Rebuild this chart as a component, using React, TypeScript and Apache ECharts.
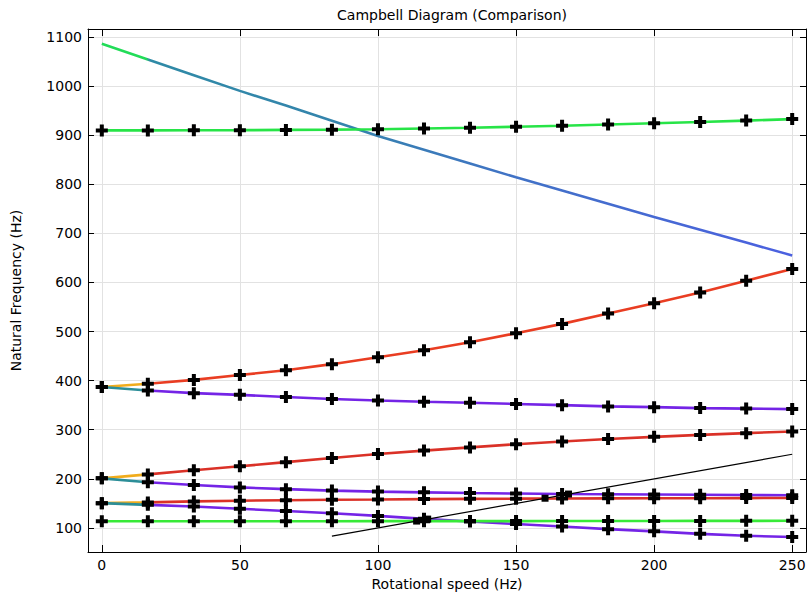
import React, { useEffect, useRef } from 'react';
import * as echarts from 'echarts';

// ---- data ----
const speeds = [0, 16.67, 33.33, 50, 66.67, 83.33, 100, 116.67, 133.33, 150, 166.67, 183.33, 200, 216.67, 233.33, 250];

const modeA = [1086, 1054, 1022, 990, 960, 929, 898, 870, 842, 814, 787, 760, 733, 707, 681, 655];
const modeB = [909.5, 909.5, 909.7, 910, 910.5, 911, 912, 913.5, 915, 917, 919, 921.5, 924, 926.5, 929.5, 932.5];
const modeC = [387, 393.5, 401.5, 411.5, 421, 433.5, 447.5, 462, 478, 496.5, 515.5, 536.5, 557.5, 579.5, 603.5, 627.5];
const modeD = [387, 380, 374.5, 371, 366.5, 362.5, 359.5, 357, 355, 352.5, 350, 347.5, 346, 344, 343, 342];
const modeE = [201, 209, 217.5, 225.5, 234, 242.5, 250.5, 257.5, 264, 270.5, 276, 281, 285.5, 289.5, 293, 296.5];
const modeF = [201, 193, 187.5, 182.5, 179, 176, 174, 172.5, 171, 170, 169, 168.5, 168, 167.5, 167, 166.5];
const modeG = [150.5, 152, 154, 155.5, 156.5, 157.5, 158, 158.7, 159.2, 159.6, 160, 160.2, 160.4, 160.6, 160.8, 161];
const modeH = [150.5, 147, 143.5, 139, 134.5, 130, 124.5, 118.5, 113, 108, 103, 97.5, 93, 88, 84, 81.5];
const modeI = [113.5, 113.5, 113.6, 113.6, 113.7, 113.7, 113.8, 113.8, 113.9, 113.9, 114, 114.1, 114.2, 114.3, 114.4, 114.5];

const oneXSpeed = [83.33, 250];
const oneXFreq = [83.33, 250];

const crossSpeed = [114, 118, 160.5, 169];
const crossFreq = [114, 118, 160.5, 169];

const xTicks = [0, 50, 100, 150, 200, 250];
const yTicks = [100, 200, 300, 400, 500, 600, 700, 800, 900, 1000, 1100];

const FONT = 'DejaVu Sans';

function grad(stops: [number, string][]) {
  return new echarts.graphic.LinearGradient(
    0, 0, 1, 0,
    stops.map(([offset, color]) => ({ offset, color }))
  );
}

function twoTone(start: string, end: string) {
  return grad([[0, start], [0.064, start], [0.069, end], [1, end]]);
}

const ORANGE = '#f1ac1c';
const TEAL = '#2c8e98';
const RED = '#da3127';
const RED2 = '#e93d22';
const PURPLE = '#7424e6';
const GREEN = '#27e447';

export default function App() {
  const ref = useRef<HTMLDivElement>(null);

  useEffect(() => {
    if (!ref.current) return;
    const chart = echarts.init(ref.current, null, { renderer: 'svg' });

    const pairs = (ys: number[]) => speeds.map((x, i) => [x, ys[i]]);

    const lineSeries = (name: string, ys: number[], color: any) => ({
      name,
      type: 'line',
      data: pairs(ys),
      showSymbol: false,
      symbol: 'none',
      lineStyle: { color, width: 2.6 },
      z: 2,
      silent: true,
    });

    const markerModes = [modeB, modeC, modeD, modeE, modeF, modeG, modeH, modeI];
    const markerData: number[][] = [];
    markerModes.forEach((ys) => speeds.forEach((x, i) => markerData.push([x, ys[i]])));

    const fmt = (ticks: number[]) => (v: number) =>
      ticks.some((t) => Math.abs(t - v) < 1e-6) ? String(v) : '';

    const textStyle = { color: '#000', fontFamily: FONT, fontSize: 14 };

    const option: any = {
      animation: false,
      backgroundColor: '#fff',
      title: {
        text: 'Campbell Diagram (Comparison)',
        left: 447,
        textAlign: 'center',
        top: 3,
        textStyle: { ...textStyle, fontWeight: 'normal' },
      },
      grid: { left: 88, right: 1, top: 29, bottom: 40, containLabel: false, outerBoundsMode: 'none' },
      xAxis: [
        {
          type: 'value',
          min: -5,
          max: 255,
          minInterval: 50,
          maxInterval: 50,
          position: 'bottom',
          name: 'Rotational speed (Hz)',
          nameLocation: 'middle',
          nameGap: 20,
          nameTextStyle: textStyle,
          axisLine: { show: true, onZero: false, lineStyle: { color: '#000', width: 1 } },
          axisTick: { show: true, inside: true, length: 7, lineStyle: { color: '#000' } },
          axisLabel: { ...textStyle, margin: 6, formatter: fmt(xTicks), showMinLabel: false, showMaxLabel: false },
          splitLine: { show: true, lineStyle: { color: '#e2e2e2', width: 1 } },
        },
        {
          type: 'value',
          min: -5,
          max: 255,
          minInterval: 50,
          maxInterval: 50,
          position: 'top',
          axisLine: { show: true, onZero: false, lineStyle: { color: '#000', width: 1 } },
          axisTick: { show: true, inside: true, length: 7, lineStyle: { color: '#000' } },
          axisLabel: { show: false },
          splitLine: { show: false },
        },
      ],
      yAxis: [
        {
          type: 'value',
          min: 51,
          max: 1116,
          minInterval: 100,
          maxInterval: 100,
          position: 'left',
          name: 'Natural Frequency (Hz)',
          nameLocation: 'middle',
          nameGap: 65,
          nameTextStyle: textStyle,
          axisLine: { show: true, onZero: false, lineStyle: { color: '#000', width: 1 } },
          axisTick: { show: true, inside: true, length: 6, lineStyle: { color: '#000' } },
          axisLabel: { ...textStyle, margin: 6, formatter: fmt(yTicks), showMinLabel: false, showMaxLabel: false },
          splitLine: { show: true, lineStyle: { color: '#e2e2e2', width: 1 } },
        },
        {
          type: 'value',
          min: 51,
          max: 1116,
          minInterval: 100,
          maxInterval: 100,
          position: 'right',
          axisLine: { show: true, onZero: false, lineStyle: { color: '#000', width: 1 } },
          axisTick: { show: true, inside: true, length: 6, lineStyle: { color: '#000' } },
          axisLabel: { show: false },
          splitLine: { show: false },
        },
      ],
      series: [
        lineSeries('A', modeA, grad([[0, '#22dc58'], [0.064, '#22dc58'], [0.069, '#2f8aa6'], [0.35, '#3584ad'], [0.6, '#4172c6'], [1, '#4b60e0']])),
        lineSeries('B', modeB, GREEN),
        lineSeries('C', modeC, twoTone(ORANGE, RED2)),
        lineSeries('D', modeD, twoTone(TEAL, PURPLE)),
        lineSeries('E', modeE, twoTone(ORANGE, RED)),
        lineSeries('F', modeF, twoTone(TEAL, PURPLE)),
        lineSeries('G', modeG, twoTone(ORANGE, RED)),
        lineSeries('H', modeH, twoTone(TEAL, PURPLE)),
        lineSeries('I', modeI, '#38ea38'),
        {
          name: '1X',
          type: 'line',
          data: oneXSpeed.map((x, i) => [x, oneXFreq[i]]),
          showSymbol: false,
          symbol: 'none',
          lineStyle: { color: '#000', width: 1.2 },
          z: 3,
          silent: true,
        },
        {
          name: 'markers',
          type: 'scatter',
          data: markerData,
          symbol: 'path://M4,0H8V4H12V8H8V12H4V8H0V4H4Z',
          symbolSize: 12,
          itemStyle: { color: '#000', opacity: 1 },
          z: 5,
          silent: true,
        },
        {
          name: 'crossings',
          type: 'scatter',
          data: crossSpeed.map((x, i) => [x, crossFreq[i]]),
          symbol: 'rect',
          symbolSize: 7,
          itemStyle: { color: '#000', opacity: 1 },
          z: 6,
          silent: true,
        },
      ],
    };

    chart.setOption(option);
    return () => chart.dispose();
  }, []);

  return (
    <div
      ref={ref}
      style={{ position: 'fixed', left: 0, top: 0, width: 807, height: 592, background: '#fff' }}
    />
  );
}
